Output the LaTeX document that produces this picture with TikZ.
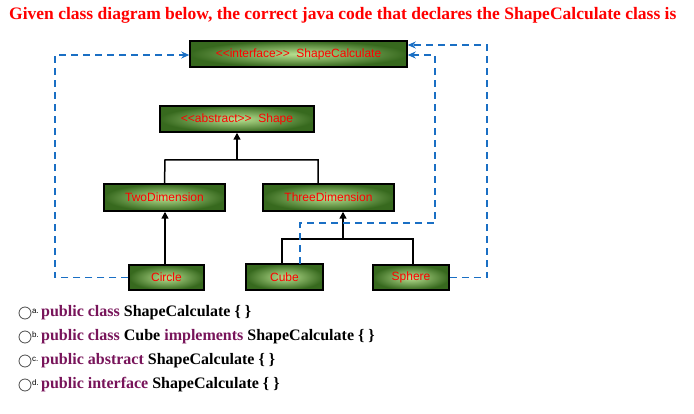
\documentclass[tikz,border=0pt]{standalone}
\usepackage{fontspec}
\setmainfont{Liberation Serif}
\newfontfamily\boxfont{Liberation Sans}
\usetikzlibrary{arrows.meta}
\definecolor{dblue}{RGB}{26,111,196}
\definecolor{kw}{RGB}{120,20,90}
\definecolor{gin}{RGB}{185,225,145}
\definecolor{gout}{RGB}{55,105,30}
\tikzset{
 cls/.style={draw=black,line width=1.5pt,inner color=gin,outer color=gout,minimum height=26pt,font=\boxfont\fontsize{12}{13}\selectfont,text=red,inner sep=2pt},
 inh/.style={line width=1.5pt,-{Triangle[length=7pt,width=7pt]}},
 lnk/.style={line width=1.5pt},
 real/.style={draw=dblue,line width=1.5pt,dash pattern=on 7pt off 5pt,-{Stealth[length=8pt,width=7pt]}},
 opt/.style={anchor=west,font=\bfseries\fontsize{16}{18}\selectfont,inner sep=0pt},
 radio/.style={circle,draw=black!70,line width=0.8pt,minimum size=12pt,inner sep=0pt}
}
\begin{document}
\begin{tikzpicture}[x=1pt,y=-1pt]
\useasboundingbox (0,0) rectangle (694,414);
\node[anchor=west,text=red,font=\bfseries\fontsize{17.5}{19}\selectfont,inner sep=0pt] (title) at (9,15) {Given class diagram below, the correct java code that declares the ShapeCalculate class is};
\node[cls,minimum width=217pt] (iface) at (298.5,54) {<<interface>>\ \ ShapeCalculate};
\node[cls,minimum width=154pt] (shape) at (237,119) {<<abstract>>\ \ Shape};
\node[cls,minimum width=121pt,minimum height=27pt] (two) at (164.5,197.5) {TwoDimension};
\node[cls,minimum width=131pt,minimum height=27pt] (three) at (328.5,197.5) {ThreeDimension};
\node[cls,minimum width=75pt,minimum height=25pt] (circle) at (166.5,277.5) {Circle};
\node[cls,minimum width=77pt,minimum height=26pt] (cube) at (284.5,277) {Cube};
\node[cls,minimum width=76pt,minimum height=25pt] (sphere) at (411,277.5) {Sphere};
% inheritance
\draw[lnk] (two.north) -- (165,160) -- (318,160) -- (318,184);
\draw[inh] (237,160) -- (shape.south);
\draw[inh] (circle.north-|165,0) -- (two.south-|165,0);
\draw[lnk] (282,264) -- (282,239) -- (413,239) -- (413,265);
\draw[inh] (343,239) -- (three.south-|343,0);
% realization
\draw[real] (circle.west) -- (55,277.5) -- (55,55) -- (iface.west|-0,55);
\draw[real] (300,264) -- (300,223) -- (435,223) -- (435,55) -- (iface.east|-0,55);
\draw[real] (sphere.east) -- (487,277.5) -- (487,45) -- (iface.east|-0,45);
% options
\foreach \y/\l/\k/\r in {313/a/public class/ShapeCalculate \{ \},337/b/public class/Cube \textcolor{kw}{implements} ShapeCalculate \{ \},361/c/public abstract/ShapeCalculate \{ \},385/d/public interface/ShapeCalculate \{ \}}{
 \node[radio] (r\l) at (25,\y) {};
 \node[anchor=west,font=\boxfont\fontsize{8}{9}\selectfont,inner sep=0pt] (l\l) at (32,\y-2) {\l.};
 \node[opt] (o\l) at (41,\y) {\textcolor{kw}{\k} \r};
}
\end{tikzpicture}
\end{document}
